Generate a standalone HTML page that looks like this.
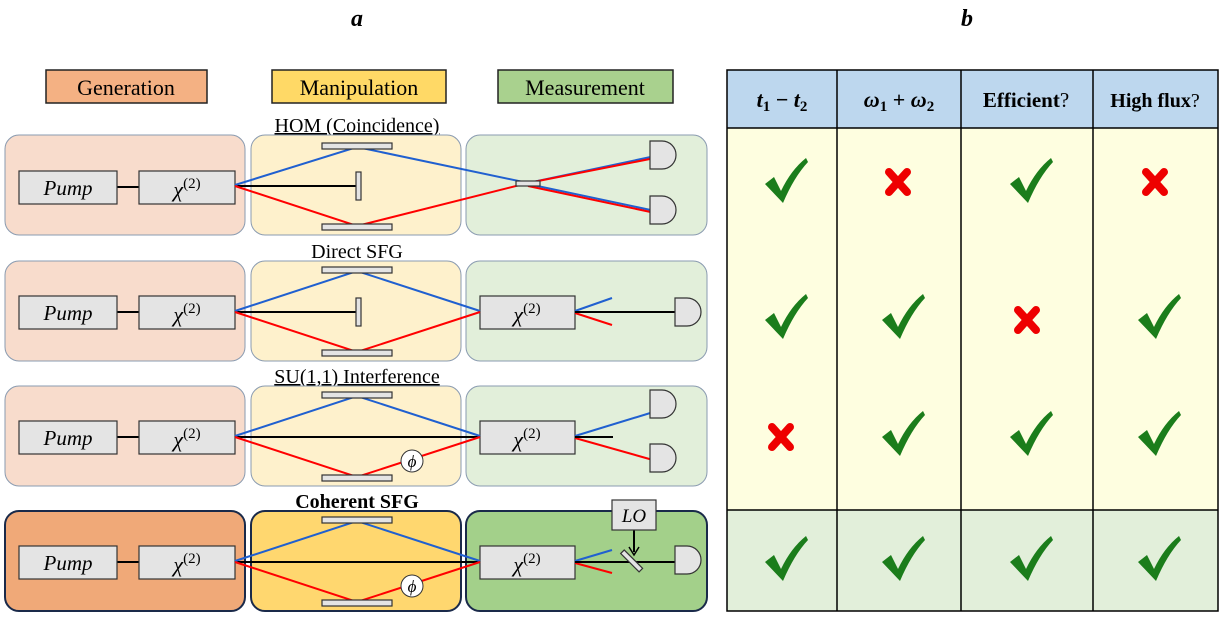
<!DOCTYPE html>
<html><head><meta charset="utf-8"><style>
html,body{margin:0;padding:0;background:#fff;}
svg text{font-family:"Liberation Serif",serif;}
</style></head><body>
<svg width="1224" height="616" viewBox="0 0 1224 616" xmlns="http://www.w3.org/2000/svg">
<defs>
<g id="ck"><path d="M-19,2 L-10,-5 L-3,9 Q7,-12 22,-24 L24,-20 Q10,-5 -1,21 Z" fill="#1b7d1b"/></g>
<g id="cx"><path d="M-9,-10 L9,10 M9,-10 L-9,10" stroke="#e00" stroke-width="8" stroke-linecap="round"/></g>
<g id="det"><path d="M0,0 L12,0 A14,14 0 0 1 12,28 L0,28 Z" fill="#e4e4e4" stroke="#333" stroke-width="1.2"/></g>
</defs>
<text x="357" y="26" font-size="24" font-weight="bold" font-style="italic" text-anchor="middle">a</text>
<text x="967" y="26" font-size="24" font-weight="bold" font-style="italic" text-anchor="middle">b</text>
<rect x="46" y="70" width="161" height="33" fill="#f4b183" stroke="#222" stroke-width="1.5"/>
<text x="126" y="95" font-size="22" text-anchor="middle">Generation</text>
<rect x="272" y="70" width="174" height="33" fill="#ffd966" stroke="#222" stroke-width="1.5"/>
<text x="359" y="95" font-size="22" text-anchor="middle">Manipulation</text>
<rect x="498" y="70" width="175" height="33" fill="#a9d18e" stroke="#222" stroke-width="1.5"/>
<text x="585" y="95" font-size="22" text-anchor="middle">Measurement</text>

<text x="357" y="132" font-size="20" text-anchor="middle" text-decoration="underline">HOM (Coincidence)</text>
<text x="357" y="258" font-size="20" text-anchor="middle">Direct SFG</text>
<text x="357" y="383" font-size="20" text-anchor="middle" text-decoration="underline">SU(1,1) Interference</text>
<text x="357" y="508" font-size="20" font-weight="bold" text-anchor="middle">Coherent SFG</text>

<g stroke="#8a9bb0" stroke-width="1">
<rect x="5" y="135" width="240" height="100" rx="14" fill="#f8dccc"/>
<rect x="251" y="135" width="210" height="100" rx="14" fill="#fef1cc"/>
<rect x="466" y="135" width="241" height="100" rx="14" fill="#e2efda"/>
<rect x="5" y="261" width="240" height="100" rx="14" fill="#f8dccc"/>
<rect x="251" y="261" width="210" height="100" rx="14" fill="#fef1cc"/>
<rect x="466" y="261" width="241" height="100" rx="14" fill="#e2efda"/>
<rect x="5" y="386" width="240" height="100" rx="14" fill="#f8dccc"/>
<rect x="251" y="386" width="210" height="100" rx="14" fill="#fef1cc"/>
<rect x="466" y="386" width="241" height="100" rx="14" fill="#e2efda"/>
</g>
<g stroke="#1a2a4a" stroke-width="2">
<rect x="5" y="511" width="240" height="100" rx="14" fill="#f0a978"/>
<rect x="251" y="511" width="210" height="100" rx="14" fill="#ffd76f"/>
<rect x="466" y="511" width="241" height="100" rx="14" fill="#a3d08a"/>
</g>

<g>
<line x1="117" y1="187" x2="139" y2="187" stroke="#000" stroke-width="2"/>
<line x1="117" y1="312" x2="139" y2="312" stroke="#000" stroke-width="2"/>
<line x1="117" y1="437" x2="139" y2="437" stroke="#000" stroke-width="2"/>
<line x1="117" y1="562" x2="139" y2="562" stroke="#000" stroke-width="2"/>
<g fill="#e4e4e4" stroke="#333" stroke-width="1.2">
<rect x="19" y="171" width="98" height="33"/><rect x="139" y="171" width="96" height="33"/>
<rect x="19" y="296" width="98" height="33"/><rect x="139" y="296" width="96" height="33"/>
<rect x="19" y="421" width="98" height="33"/><rect x="139" y="421" width="96" height="33"/>
<rect x="19" y="546" width="98" height="33"/><rect x="139" y="546" width="96" height="33"/>
<rect x="480" y="296" width="95" height="33"/>
<rect x="480" y="421" width="95" height="33"/>
<rect x="480" y="546" width="95" height="33"/>
</g>
<g font-size="21" font-style="italic" text-anchor="middle">
<text x="68" y="195">Pump</text><text x="68" y="320">Pump</text><text x="68" y="445">Pump</text><text x="68" y="570">Pump</text>
</g>
<g font-size="22" font-style="italic" text-anchor="middle">
<text x="187" y="197">χ<tspan font-style="normal" font-size="15" dy="-9">(2)</tspan></text>
<text x="187" y="322">χ<tspan font-style="normal" font-size="15" dy="-9">(2)</tspan></text>
<text x="187" y="447">χ<tspan font-style="normal" font-size="15" dy="-9">(2)</tspan></text>
<text x="187" y="572">χ<tspan font-style="normal" font-size="15" dy="-9">(2)</tspan></text>
<text x="527" y="322">χ<tspan font-style="normal" font-size="15" dy="-9">(2)</tspan></text>
<text x="527" y="447">χ<tspan font-style="normal" font-size="15" dy="-9">(2)</tspan></text>
<text x="527" y="572">χ<tspan font-style="normal" font-size="15" dy="-9">(2)</tspan></text>
</g>
</g>

<g fill="none" stroke-width="2">
<line x1="235" y1="186" x2="358" y2="186" stroke="#000"/>
<polyline points="235,185 357,147 528,183 660,155" stroke="#2060d0"/>
<polyline points="235,186 357,226 528,183 660,157" stroke="#f00"/>
<polyline points="528,184 660,212" stroke="#2060d0"/>
<polyline points="528,186 660,214" stroke="#f00"/>
</g>
<g fill="#e4e4e4" stroke="#333" stroke-width="1.2">
<rect x="322" y="143" width="70" height="6"/><rect x="322" y="224" width="70" height="6"/>
<rect x="356" y="172" width="5" height="28"/>
<rect x="516" y="181" width="24" height="5"/>
</g>
<use href="#det" x="650" y="141"/><use href="#det" x="650" y="196"/>

<g fill="none" stroke-width="2">
<line x1="235" y1="312" x2="358" y2="312" stroke="#000"/>
<polyline points="235,311 357,271 480,311" stroke="#2060d0"/>
<polyline points="235,312 357,352 480,312" stroke="#f00"/>
<line x1="575" y1="311" x2="612" y2="298" stroke="#2060d0"/>
<line x1="575" y1="313" x2="612" y2="325" stroke="#f00"/>
<line x1="575" y1="312" x2="676" y2="312" stroke="#000"/>
</g>
<g fill="#e4e4e4" stroke="#333" stroke-width="1.2">
<rect x="322" y="267" width="70" height="6"/><rect x="322" y="350" width="70" height="6"/>
<rect x="356" y="298" width="5" height="28"/>
</g>
<use href="#det" x="675" y="298"/>

<g fill="none" stroke-width="2">
<line x1="235" y1="437" x2="480" y2="437" stroke="#000"/>
<polyline points="235,436 357,396 480,436" stroke="#2060d0"/>
<polyline points="235,437 357,477 480,437" stroke="#f00"/>
<line x1="575" y1="436" x2="660" y2="410" stroke="#2060d0"/>
<line x1="575" y1="438" x2="660" y2="462" stroke="#f00"/>
<line x1="575" y1="437" x2="613" y2="437" stroke="#000"/>
</g>
<g fill="#e4e4e4" stroke="#333" stroke-width="1.2">
<rect x="322" y="392" width="70" height="6"/><rect x="322" y="475" width="70" height="6"/>
</g>
<circle cx="412" cy="461" r="11" fill="#fff" stroke="#333"/>
<text x="412" y="467" font-size="17" font-style="italic" text-anchor="middle">ϕ</text>
<use href="#det" x="650" y="390"/><use href="#det" x="650" y="444"/>

<g fill="none" stroke-width="2">
<line x1="235" y1="562" x2="480" y2="562" stroke="#000"/>
<polyline points="235,561 357,521 480,561" stroke="#2060d0"/>
<polyline points="235,562 357,602 480,562" stroke="#f00"/>
<line x1="575" y1="561" x2="612" y2="550" stroke="#2060d0"/>
<line x1="575" y1="563" x2="612" y2="573" stroke="#f00"/>
<line x1="575" y1="562" x2="676" y2="562" stroke="#000"/>
<line x1="634" y1="530" x2="634" y2="552" stroke="#000"/>
</g>
<path d="M629,547 L634,555 L639,547" fill="none" stroke="#000" stroke-width="1.5"/>
<g fill="#e4e4e4" stroke="#333" stroke-width="1.2">
<rect x="322" y="517" width="70" height="6"/><rect x="322" y="600" width="70" height="6"/>
<rect x="612" y="500" width="44" height="30"/>
<rect x="630" y="548" width="5" height="26" transform="rotate(-45 632 562)"/>
</g>
<text x="634" y="522" font-size="19" font-style="italic" text-anchor="middle">LO</text>
<circle cx="412" cy="586" r="11" fill="#fff" stroke="#333"/>
<text x="412" y="592" font-size="17" font-style="italic" text-anchor="middle">ϕ</text>
<use href="#det" x="675" y="546"/>

<rect x="727" y="70" width="491" height="58" fill="#bdd7ee"/>
<rect x="727" y="128" width="491" height="382" fill="#fefee0"/>
<rect x="727" y="510" width="491" height="101" fill="#e2efda"/>
<g stroke="#000" stroke-width="1.5" fill="none">
<rect x="727" y="70" width="491" height="541"/>
<line x1="727" y1="128" x2="1218" y2="128"/>
<line x1="727" y1="510" x2="1218" y2="510"/>
<line x1="837" y1="70" x2="837" y2="611"/>
<line x1="961" y1="70" x2="961" y2="611"/>
<line x1="1093" y1="70" x2="1093" y2="611"/>
</g>
<g font-size="22" font-weight="bold" text-anchor="middle">
<text x="782" y="107" font-style="italic">t<tspan font-size="15" dy="4" font-style="normal">1</tspan><tspan dy="-4" font-style="normal"> − </tspan>t<tspan font-size="15" dy="4" font-style="normal">2</tspan></text>
<text x="899" y="107" font-style="italic">ω<tspan font-size="15" dy="4" font-style="normal">1</tspan><tspan dy="-4" font-style="normal"> + </tspan>ω<tspan font-size="15" dy="4" font-style="normal">2</tspan></text>
<text x="1026" y="107" font-size="21">Efficient<tspan font-weight="normal">?</tspan></text>
<text x="1155" y="107" font-size="20">High flux<tspan font-weight="normal">?</tspan></text>
</g>
<use href="#ck" x="784" y="182"/><use href="#cx" x="898" y="182"/><use href="#ck" x="1029" y="182"/><use href="#cx" x="1155" y="182"/>
<use href="#ck" x="784" y="318"/><use href="#ck" x="901" y="318"/><use href="#cx" x="1027" y="320"/><use href="#ck" x="1157" y="318"/>
<use href="#cx" x="781" y="437"/><use href="#ck" x="901" y="435"/><use href="#ck" x="1029" y="435"/><use href="#ck" x="1157" y="435"/>
<use href="#ck" x="784" y="560"/><use href="#ck" x="901" y="560"/><use href="#ck" x="1029" y="560"/><use href="#ck" x="1157" y="560"/>
</svg>
</body></html>
